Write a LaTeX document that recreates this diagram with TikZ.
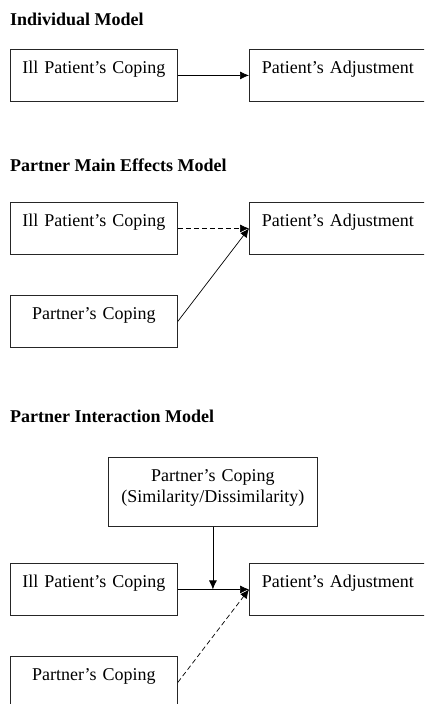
\documentclass[tikz,border=0pt]{standalone}
\usepackage{fontspec}
\setmainfont{Liberation Serif}
\usepackage{tikz}
\usetikzlibrary{arrows.meta}

\begin{document}
\begin{tikzpicture}[x=1pt,y=-1pt,font=\fontsize{18}{21}\selectfont,
  box/.style={draw=black!85,line width=0.8pt,inner sep=0pt,align=center,text height=24pt,text depth=28pt,anchor=north west},
  title/.style={inner sep=0pt,anchor=base west,font=\fontsize{18}{21}\selectfont\bfseries},
  link/.style={line width=0.7pt,-{Latex[length=9pt,width=8pt]}}]
\clip (0,0) rectangle (424,704);
\node[title] (t1) at (10,25) {Individual Model};
\node[box,text width=167pt] (a1) at (10,49) {Ill Patient's Coping};
\node[box,text width=177pt] (b1) at (249,49) {Patient's Adjustment};
\draw[link] (a1.east) -- (b1.west);
\node[title] (t2) at (10,171) {Partner Main Effects Model};
\node[box,text width=167pt] (a2) at (10,202) {Ill Patient's Coping};
\node[box,text width=177pt] (b2) at (249,202) {Patient's Adjustment};
\node[box,text width=167pt] (c2) at (10,295) {Partner's Coping};
\draw[link,dash pattern=on 5pt off 3pt] (a2.east) -- (b2.west);
\draw[link] (c2.east) -- (b2.west);
\node[title] (t3) at (10,422) {Partner Interaction Model};
\node[box,text width=209pt,text depth=45pt] (p3) at (108,457) {Partner's Coping\\(Similarity/Dissimilarity)};
\node[box,text width=167pt] (a3) at (10,563) {Ill Patient's Coping};
\node[box,text width=177pt] (b3) at (249,563) {Patient's Adjustment};
\node[box,text width=167pt] (c3) at (10,656) {Partner's Coping};
\draw[link] (a3.east) -- (b3.west);
\draw[link] (p3.south) -- (p3.south |- a3.east);
\draw[link,dash pattern=on 5pt off 3pt] (c3.east) -- (b3.west);
\end{tikzpicture}
\end{document}
